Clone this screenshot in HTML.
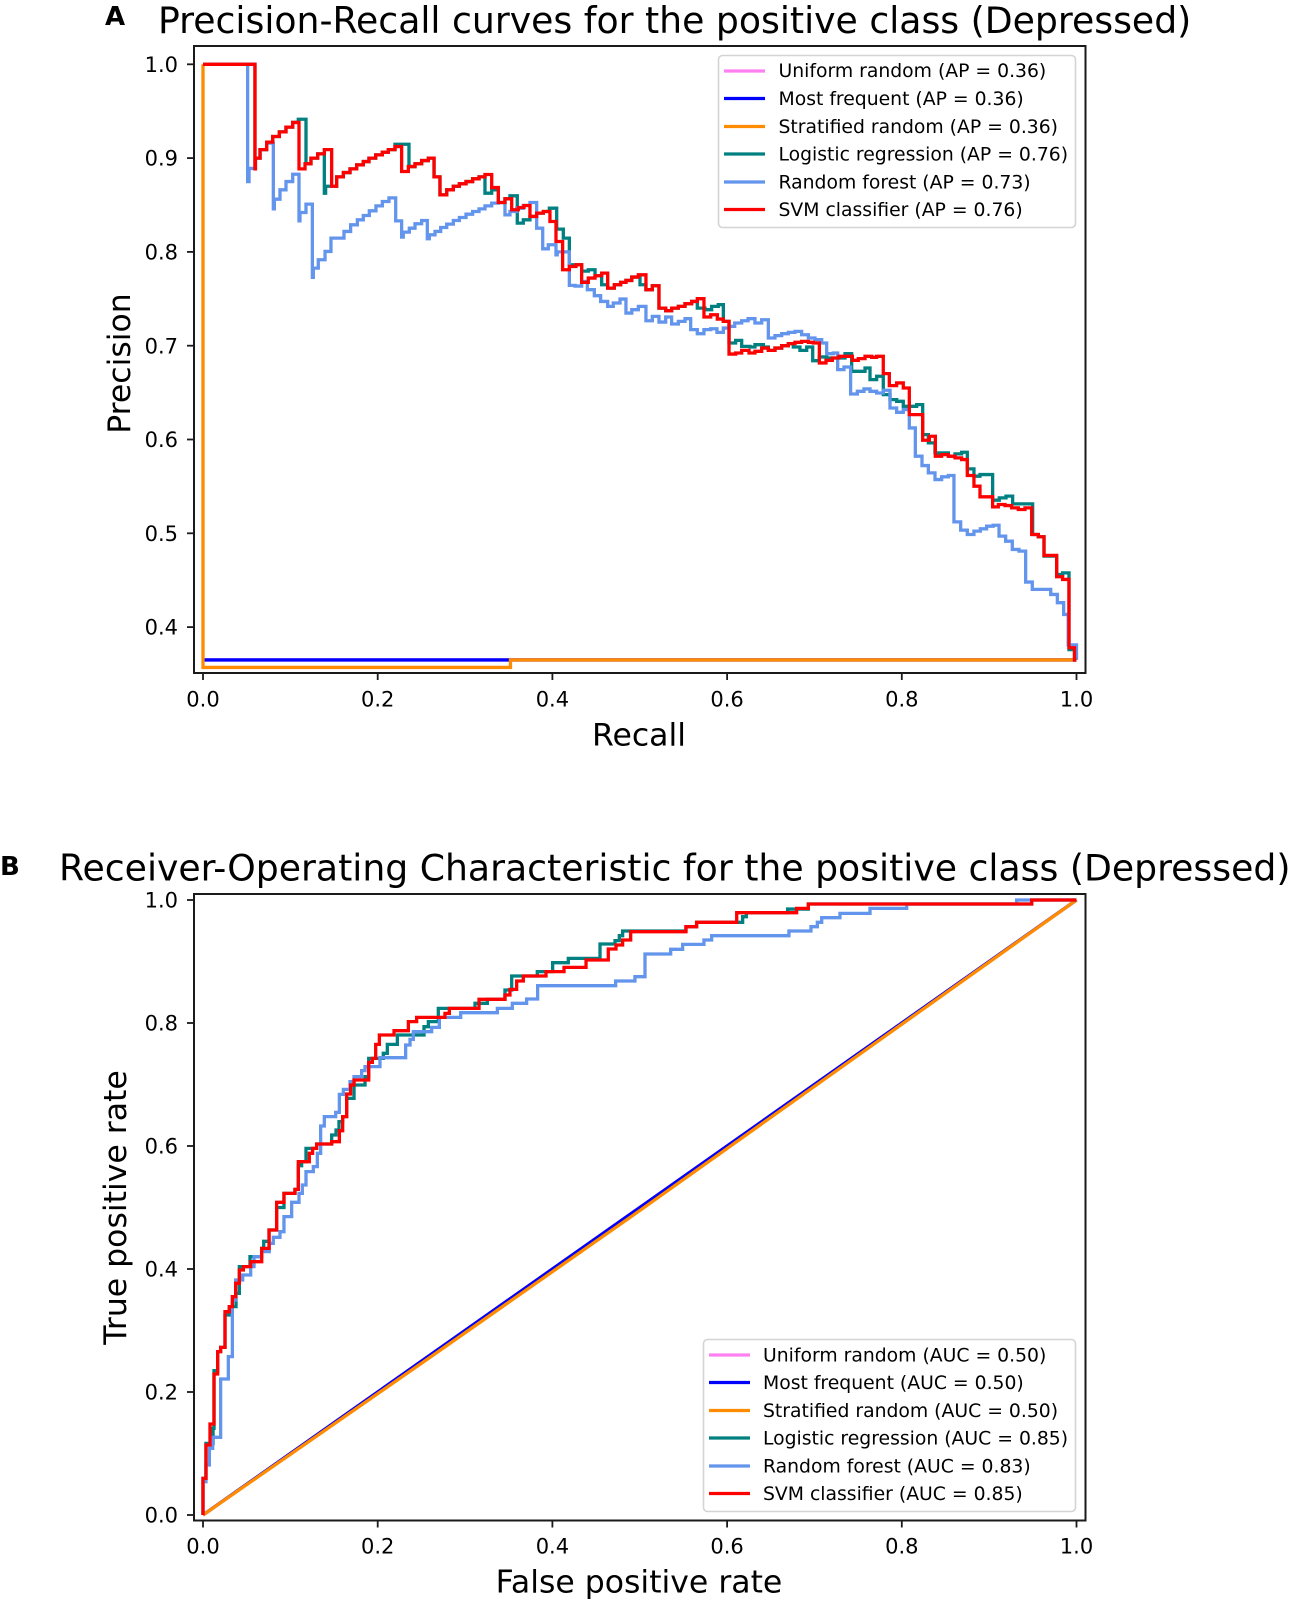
<!DOCTYPE html>
<html lang="en">
<head>
<meta charset="utf-8">
<title>Precision-Recall and ROC curves</title>
<style>
html,body{margin:0;padding:0;background:#fff;}
svg{display:block;}
text{font-family:"DejaVu Sans","Liberation Sans",sans-serif;fill:#000;}
.tick{font-size:21px;}
.leg{font-size:18.8px;}
.ttl{font-size:36.2px;}
.lab{font-size:31.5px;}
.pan{font-size:26px;font-weight:bold;}
</style>
</head>
<body>
<svg id="figure" xmlns="http://www.w3.org/2000/svg" width="1293" height="1607" viewBox="0 0 1293 1607">
  <rect width="1293" height="1607" fill="#fff"/>
  <text class="pan" x="105" y="25">A</text>
  <text class="ttl" x="158" y="33">Precision-Recall curves for the positive class (Depressed)</text>
  <text class="pan" x="0" y="875">B</text>
  <text class="ttl" x="59" y="880.5">Receiver-Operating Characteristic for the positive class (Depressed)</text>

  <g id="pr-marks"></g>
  <g id="roc-marks"></g>
  <g id="pr-ticks"></g>
  <g id="roc-ticks"></g>

  <rect x="194" y="46" width="891.5" height="627" fill="none" stroke="#1a1a1a" stroke-width="2"/>
  <rect x="194" y="894" width="891.5" height="626.5" fill="none" stroke="#1a1a1a" stroke-width="2"/>

  <text class="lab" x="639" y="745.5" text-anchor="middle">Recall</text>
  <text class="lab" transform="translate(130 363.5) rotate(-90)" text-anchor="middle">Precision</text>
  <text class="lab" x="639" y="1592.5" text-anchor="middle">False positive rate</text>
  <text class="lab" transform="translate(126 1207.5) rotate(-90)" text-anchor="middle">True positive rate</text>

  <g>
    <rect x="718.5" y="55.5" width="357" height="172" rx="4" fill="#fff" fill-opacity="0.85" stroke="#d4d4d4" stroke-width="1.6"/>
    <g><line x1="724" x2="765" y1="71" y2="71" stroke="#ff80f0" stroke-width="3.3"/><text class="leg" x="778.5" y="77">Uniform random (AP = 0.36)</text></g>
    <g><line x1="724" x2="765" y1="98.5" y2="98.5" stroke="#0000ff" stroke-width="3.3"/><text class="leg" x="778.5" y="105">Most frequent (AP = 0.36)</text></g>
    <g><line x1="724" x2="765" y1="126.5" y2="126.5" stroke="#ff8c00" stroke-width="3.3"/><text class="leg" x="778.5" y="133">Stratified random (AP = 0.36)</text></g>
    <g><line x1="724" x2="765" y1="154" y2="154" stroke="#008080" stroke-width="3.3"/><text class="leg" x="778.5" y="160.5">Logistic regression (AP = 0.76)</text></g>
    <g><line x1="724" x2="765" y1="182" y2="182" stroke="#6495ed" stroke-width="3.3"/><text class="leg" x="778.5" y="188.5">Random forest (AP = 0.73)</text></g>
    <g><line x1="724" x2="765" y1="209.5" y2="209.5" stroke="#ff0000" stroke-width="3.3"/><text class="leg" x="778.5" y="216">SVM classifier (AP = 0.76)</text></g>
  </g>

  <g>
    <rect x="703.5" y="1339.5" width="372" height="172" rx="4" fill="#fff" fill-opacity="0.85" stroke="#d4d4d4" stroke-width="1.6"/>
    <g><line x1="709" x2="750" y1="1355" y2="1355" stroke="#ff80f0" stroke-width="3.3"/><text class="leg" x="763" y="1361.5">Uniform random (AUC = 0.50)</text></g>
    <g><line x1="709" x2="750" y1="1382.5" y2="1382.5" stroke="#0000ff" stroke-width="3.3"/><text class="leg" x="763" y="1389">Most frequent (AUC = 0.50)</text></g>
    <g><line x1="709" x2="750" y1="1410.5" y2="1410.5" stroke="#ff8c00" stroke-width="3.3"/><text class="leg" x="763" y="1417">Stratified random (AUC = 0.50)</text></g>
    <g><line x1="709" x2="750" y1="1438" y2="1438" stroke="#008080" stroke-width="3.3"/><text class="leg" x="763" y="1444.5">Logistic regression (AUC = 0.85)</text></g>
    <g><line x1="709" x2="750" y1="1466" y2="1466" stroke="#6495ed" stroke-width="3.3"/><text class="leg" x="763" y="1472.5">Random forest (AUC = 0.83)</text></g>
    <g><line x1="709" x2="750" y1="1493.5" y2="1493.5" stroke="#ff0000" stroke-width="3.3"/><text class="leg" x="763" y="1500">SVM classifier (AUC = 0.85)</text></g>
  </g>
</svg>

<script>
const xTickLabels = ["0.0","0.2","0.4","0.6","0.8","1.0"];
const prYTickLabels = ["0.4","0.5","0.6","0.7","0.8","0.9","1.0"];
const rocYTickLabels = ["0.0","0.2","0.4","0.6","0.8","1.0"];

/* Precision-Recall: [recall, precision] */
const prUniform = [[0,.365],[1,.365]];
const prMostFrequent = [[0,.365],[1,.365]];
const prStratified = [[0,1],[0,.357],[.352,.357],[.352,.365],[1,.365]];
const prLogistic = [[0,1],[.0595,.8885],[.06,.9],[.0653,.909],[.0729,.917],[.0798,.923],[.0874,.928],[.095,.933],[.1027,.938],[.1091,.9414],[.1179,.894],[.1236,.9],[.1313,.9045],[.1389,.8626],[.1404,.87],[.153,.88],[.1607,.8846],[.1683,.8885],[.1759,.8928],[.1835,.8963],[.19,.9],[.1977,.9034],[.2053,.9063],[.2122,.909],[.2198,.9148],[.2358,.891],[.2427,.894],[.2503,.8974],[.258,.9],[.2645,.88],[.2713,.8608],[.279,.8662],[.2866,.87],[.2935,.8726],[.3011,.875],[.3087,.8779],[.316,.88],[.3228,.8626],[.3305,.8662],[.3381,.8527],[.3457,.8566],[.3514,.8598],[.3598,.8307],[.3667,.8342],[.3743,.8378],[.382,.8413],[.3896,.8431],[.3965,.8466],[.4049,.8243],[.4125,.8147],[.4194,.7863],[.4335,.7795],[.4411,.781],[.4488,.7746],[.4564,.765],[.4633,.7614],[.4709,.765],[.4781,.7675],[.4842,.7696],[.4909,.7732],[.5003,.765],[.5071,.7597],[.5144,.7639],[.522,.7401],[.5297,.7373],[.5365,.7401],[.5442,.7419],[.5518,.7448],[.5594,.7472],[.5659,.7401],[.5747,.7384],[.5823,.7419],[.5899,.7437],[.5957,.7259],[.6022,.7029],[.6098,.7057],[.6167,.6993],[.6262,.6986],[.6319,.7011],[.6415,.6986],[.6472,.695],[.6548,.6975],[.6625,.7],[.6701,.7022],[.6758,.6986],[.6834,.695],[.6911,.6986],[.698,.684],[.7056,.688],[.714,.6869],[.735,.6915],[.7426,.6727],[.7579,.6762],[.7636,.6638],[.7712,.6674],[.7788,.6478],[.7865,.6425],[.7941,.6407],[.8017,.6354],[.817,.6372],[.8239,.6052],[.8304,.5964],[.838,.5857],[.8533,.5822],[.8609,.5847],[.8685,.5864],[.875,.5687],[.8826,.5609],[.8895,.5626],[.904,.5353],[.9116,.5378],[.9193,.5396],[.9269,.5314],[.9498,.4987],[.9563,.4963],[.9628,.4757],[.9773,.4561],[.9841,.4578],[.9914,.376],[.9977,.365],[1,.365]];
const prForest = [[0,1],[.0511,.875],[.0527,.889],[.06,.9],[.0653,.909],[.0729,.916],[.0805,.8459],[.0817,.8562],[.0881,.8662],[.095,.875],[.1027,.8828],[.1099,.8331],[.111,.842],[.1179,.8509],[.1252,.7728],[.1263,.7827],[.132,.7916],[.1397,.8005],[.1465,.8147],[.1614,.8218],[.169,.8289],[.1767,.8342],[.1835,.8388],[.1904,.8438],[.198,.8491],[.2053,.8537],[.2129,.8576],[.2206,.8331],[.2274,.8158],[.2293,.8211],[.2362,.8253],[.2427,.83],[.2503,.8335],[.2568,.814],[.2591,.8182],[.2656,.8218],[.2721,.826],[.279,.8296],[.2866,.8335],[.2935,.8367],[.3011,.8402],[.3087,.8431],[.316,.8459],[.3228,.8491],[.3305,.852],[.3381,.8527],[.3457,.8395],[.3514,.8431],[.3591,.8466],[.3667,.8495],[.3743,.8527],[.382,.8253],[.3889,.8033],[.3953,.8076],[.4041,.7969],[.4055,.8],[.4194,.7643],[.4259,.7636],[.4335,.7685],[.44,.7597],[.448,.7533],[.4552,.7472],[.4633,.7419],[.4697,.7455],[.4774,.7497],[.4842,.7348],[.4909,.7384],[.4984,.7419],[.5071,.7266],[.5144,.7313],[.522,.7252],[.5297,.7306],[.5365,.7231],[.5442,.7259],[.5518,.7288],[.5583,.7171],[.5659,.7128],[.5735,.7171],[.5812,.7181],[.5884,.7142],[.5957,.7188],[.6022,.7206],[.6087,.7242],[.6167,.7266],[.624,.7288],[.6319,.7242],[.6396,.7277],[.6472,.7082],[.6548,.7107],[.6625,.7128],[.6701,.7142],[.6777,.7153],[.6853,.7117],[.693,.7082],[.7006,.7064],[.7083,.7029],[.714,.6915],[.7216,.6922],[.7266,.6745],[.7338,.6773],[.7414,.6485],[.7491,.6514],[.7567,.6539],[.7636,.6514],[.7712,.6496],[.7788,.6525],[.7865,.6336],[.7941,.629],[.8017,.6319],[.8086,.6123],[.8155,.5822],[.8231,.5722],[.8304,.5644],[.838,.5573],[.8456,.5602],[.8533,.5616],[.8597,.5122],[.8674,.5034],[.875,.4987],[.8826,.5023],[.8899,.5048],[.8971,.5076],[.9046,.5086],[.9113,.497],[.9189,.4916],[.9265,.4828],[.9342,.481],[.9418,.448],[.9494,.4402],[.964,.4402],[.9705,.4348],[.9781,.426],[.9853,.4135],[.9905,.381],[1,.365]];
const prSvm = [[0,1],[.0595,.8885],[.06,.9],[.0653,.909],[.0729,.917],[.0798,.923],[.0874,.928],[.095,.933],[.1027,.938],[.1099,.8885],[.1168,.894],[.1236,.9],[.1313,.9045],[.1389,.909],[.1473,.87],[.153,.88],[.1607,.8846],[.1683,.8885],[.1759,.8928],[.1835,.8963],[.19,.9],[.1977,.9034],[.2053,.9063],[.2122,.909],[.2198,.9123],[.2274,.8857],[.2351,.891],[.2427,.894],[.2503,.8974],[.258,.9],[.2645,.88],[.2713,.8608],[.279,.8662],[.2866,.87],[.2935,.8726],[.3011,.875],[.3087,.8779],[.316,.88],[.3228,.8825],[.3305,.8686],[.3381,.8527],[.3457,.8566],[.3534,.8449],[.361,.8473],[.3675,.8495],[.3743,.8378],[.382,.8413],[.3896,.8431],[.3972,.8324],[.4041,.8111],[.4117,.781],[.4194,.7845],[.427,.7863],[.4335,.7675],[.4411,.7721],[.4488,.7746],[.4564,.7774],[.4633,.7614],[.4709,.765],[.4781,.7675],[.4842,.7696],[.4909,.7732],[.4984,.7756],[.5071,.7597],[.5144,.7639],[.522,.7401],[.5297,.7373],[.5365,.7401],[.5442,.7419],[.5518,.7448],[.5594,.7472],[.5659,.7501],[.5735,.7306],[.5812,.733],[.5888,.7284],[.5957,.7259],[.6022,.6911],[.6098,.6922],[.6167,.695],[.6251,.6922],[.6319,.694],[.6396,.6975],[.6472,.695],[.6548,.6975],[.6625,.7],[.6701,.7022],[.6777,.7036],[.6853,.7046],[.693,.7036],[.6987,.7029],[.7056,.6816],[.7132,.6844],[.7205,.6869],[.7281,.6887],[.7434,.6844],[.7502,.6862],[.7579,.6887],[.7655,.6876],[.7712,.6887],[.7788,.6702],[.7857,.6574],[.7941,.6603],[.8017,.6549],[.8086,.6265],[.8239,.5992],[.8315,.6035],[.8384,.5822],[.8456,.5839],[.8533,.5822],[.8609,.5804],[.8685,.5786],[.875,.5616],[.8826,.5502],[.8895,.5389],[.904,.5282],[.9105,.5307],[.9181,.5296],[.9258,.5271],[.9334,.5254],[.941,.5271],[.9487,.4987],[.9563,.4963],[.9628,.4764],[.9773,.4537],[.9841,.4508],[.9914,.378],[.9977,.365],[1,.365]];

/* ROC: [false positive rate, true positive rate] */
const rocUniform = [[0,0],[1,1]];
const rocMostFrequent = [[0,0],[1,1]];
const rocStratified = [[0,0],[.26,.2565],[.5,.495],[1,1]];
const rocLogistic = [[0,0],[0,.0596],[.0034,.1165],[.0115,.141],[.0126,.2347],[.0168,.2656],[.0202,.2726],[.0252,.3252],[.0301,.3388],[.0378,.3604],[.0416,.4038],[.0538,.42],[.0672,.4336],[.0695,.445],[.0756,.4634],[.0843,.5],[.0927,.523],[.1053,.5295],[.1091,.568],[.1129,.5745],[.1179,.5962],[.1301,.6032],[.1473,.6179],[.1523,.626],[.1557,.6396],[.1599,.6477],[.1645,.6775],[.1729,.6992],[.1855,.7127],[.1897,.7425],[.2064,.7507],[.211,.7653],[.2225,.7805],[.253,.794],[.258,.8022],[.2694,.8238],[.3114,.832],[.3255,.8385],[.3457,.8537],[.3534,.8764],[.3827,.8835],[.4003,.8981],[.4182,.9051],[.4545,.9284],[.4717,.9339],[.4766,.942],[.4804,.9496],[.5529,.9566],[.5651,.9637],[.6178,.9729],[.622,.9794],[.6693,.9853],[.693,.9935],[.9487,1],[1,1]];
const rocForest = [[0,0],[0,.0542],[.0034,.0813],[.0073,.1084],[.0111,.1263],[.0202,.2211],[.029,.2575],[.0336,.3496],[.0374,.3821],[.0454,.3902],[.0546,.4038],[.0584,.42],[.0672,.4282],[.0759,.4417],[.0805,.4515],[.0881,.4607],[.0927,.4851],[.1015,.5084],[.1099,.523],[.1137,.5366],[.1179,.5583],[.1263,.5664],[.1309,.5881],[.1347,.6325],[.1389,.6477],[.1519,.6547],[.1561,.684],[.1607,.6921],[.1683,.7046],[.1729,.7127],[.1816,.7225],[.1855,.729],[.2026,.7436],[.232,.7642],[.237,.7734],[.2408,.7859],[.2618,.7929],[.2706,.8092],[.295,.8168],[.337,.8238],[.3541,.832],[.3705,.839],[.3831,.8607],[.4724,.8683],[.4945,.8753],[.506,.9122],[.5354,.9198],[.5491,.9279],[.5735,.935],[.5823,.942],[.6708,.9496],[.696,.9566],[.7033,.9637],[.7083,.9712],[.7292,.9783],[.7636,.9864],[.8056,.9935],[.9315,1],[1,1]];
const rocSvm = [[0,0],[0,.0596],[.0034,.1138],[.008,.148],[.0126,.2293],[.0168,.2656],[.0202,.2726],[.0252,.3306],[.0301,.3388],[.0336,.355],[.0374,.3767],[.0416,.3984],[.0462,.4038],[.0546,.4119],[.0672,.4336],[.0756,.4634],[.0843,.5084],[.0927,.523],[.1053,.5295],[.1091,.5745],[.1217,.5881],[.1255,.5962],[.1301,.6032],[.1473,.607],[.1561,.6249],[.1599,.6477],[.1645,.6845],[.169,.6992],[.1729,.7073],[.1897,.736],[.1939,.7425],[.1977,.7653],[.2019,.7805],[.2187,.7875],[.2351,.8022],[.2446,.8092],[.277,.8157],[.282,.8238],[.316,.8385],[.3457,.8455],[.3514,.8547],[.3591,.8683],[.3667,.8764],[.3927,.8835],[.4133,.8905],[.4385,.9024],[.464,.9203],[.4728,.9268],[.4804,.935],[.4896,.9485],[.5529,.9566],[.5651,.9637],[.611,.9794],[.6796,.9864],[.693,.9935],[.9487,1],[1,1]];

const SVGNS = "http://www.w3.org/2000/svg";
const xScale = v => 203 + v * 873.5;
const prYScale = v => 64.3 + (1 - v) * 938;
const rocYScale = v => 1515 - v * 615;

function stepPath(pts, yScale) {
  let d = "M" + xScale(pts[0][0]).toFixed(2) + " " + yScale(pts[0][1]).toFixed(2);
  for (let i = 1; i < pts.length; i++) {
    d += "H" + xScale(pts[i][0]).toFixed(2) + "V" + yScale(pts[i][1]).toFixed(2);
  }
  return d;
}
function straightPath(pts, yScale) {
  return pts.map((p, i) => (i ? "L" : "M") + xScale(p[0]).toFixed(2) + " " + yScale(p[1]).toFixed(2)).join("");
}
function addCurve(parent, d, color, name) {
  const el = document.createElementNS(SVGNS, "path");
  el.setAttribute("d", d);
  el.setAttribute("fill", "none");
  el.setAttribute("stroke", color);
  el.setAttribute("stroke-width", "3.3");
  el.setAttribute("stroke-linejoin", "miter");
  
  
  parent.appendChild(el);
}
function addTick(parent, x1, y1, x2, y2, label, tx, ty, anchor, name) {
  const ln = document.createElementNS(SVGNS, "line");
  ln.setAttribute("x1", x1);
  ln.setAttribute("y1", y1);
  ln.setAttribute("x2", x2);
  ln.setAttribute("y2", y2);
  ln.setAttribute("stroke", "#1a1a1a");
  ln.setAttribute("stroke-width", "1.8");
  
  
  parent.appendChild(ln);
  const t = document.createElementNS(SVGNS, "text");
  t.setAttribute("class", "tick");
  t.setAttribute("x", tx);
  t.setAttribute("y", ty);
  t.setAttribute("text-anchor", anchor);
  
  
  t.textContent = label;
  parent.appendChild(t);
}

const prMarks = document.getElementById("pr-marks");
addCurve(prMarks, stepPath(prUniform, prYScale), "#ff80f0", "pr-curve-uniform");
addCurve(prMarks, stepPath(prMostFrequent, prYScale), "#0000ff", "pr-curve-most-frequent");
addCurve(prMarks, stepPath(prStratified, prYScale), "#ff8c00", "pr-curve-stratified");
addCurve(prMarks, stepPath(prLogistic, prYScale), "#008080", "pr-curve-logistic");
addCurve(prMarks, stepPath(prForest, prYScale), "#6495ed", "pr-curve-forest");
addCurve(prMarks, stepPath(prSvm, prYScale), "#ff0000", "pr-curve-svm");

const rocMarks = document.getElementById("roc-marks");
addCurve(rocMarks, straightPath(rocUniform, rocYScale), "#ff80f0", "roc-curve-uniform");
addCurve(rocMarks, straightPath(rocMostFrequent, rocYScale), "#0000ff", "roc-curve-most-frequent");
addCurve(rocMarks, straightPath(rocStratified, rocYScale), "#ff8c00", "roc-curve-stratified");
addCurve(rocMarks, stepPath(rocLogistic, rocYScale), "#008080", "roc-curve-logistic");
addCurve(rocMarks, stepPath(rocForest, rocYScale), "#6495ed", "roc-curve-forest");
addCurve(rocMarks, stepPath(rocSvm, rocYScale), "#ff0000", "roc-curve-svm");

const prTicks = document.getElementById("pr-ticks");
const rocTicks = document.getElementById("roc-ticks");
xTickLabels.forEach(lab => {
  const x = xScale(parseFloat(lab));
  addTick(prTicks, x, 673, x, 680, lab, x, 706.5, "middle", "pr-x-tick");
  addTick(rocTicks, x, 1520.5, x, 1527.5, lab, x, 1553.5, "middle", "roc-x-tick");
});
prYTickLabels.forEach(lab => {
  const y = prYScale(parseFloat(lab));
  addTick(prTicks, 187, y, 194, y, lab, 178, y + 7.6, "end", "pr-y-tick");
});
rocYTickLabels.forEach(lab => {
  const y = rocYScale(parseFloat(lab));
  addTick(rocTicks, 187, y, 194, y, lab, 178, y + 7.6, "end", "roc-y-tick");
});
</script>
</body>
</html>
